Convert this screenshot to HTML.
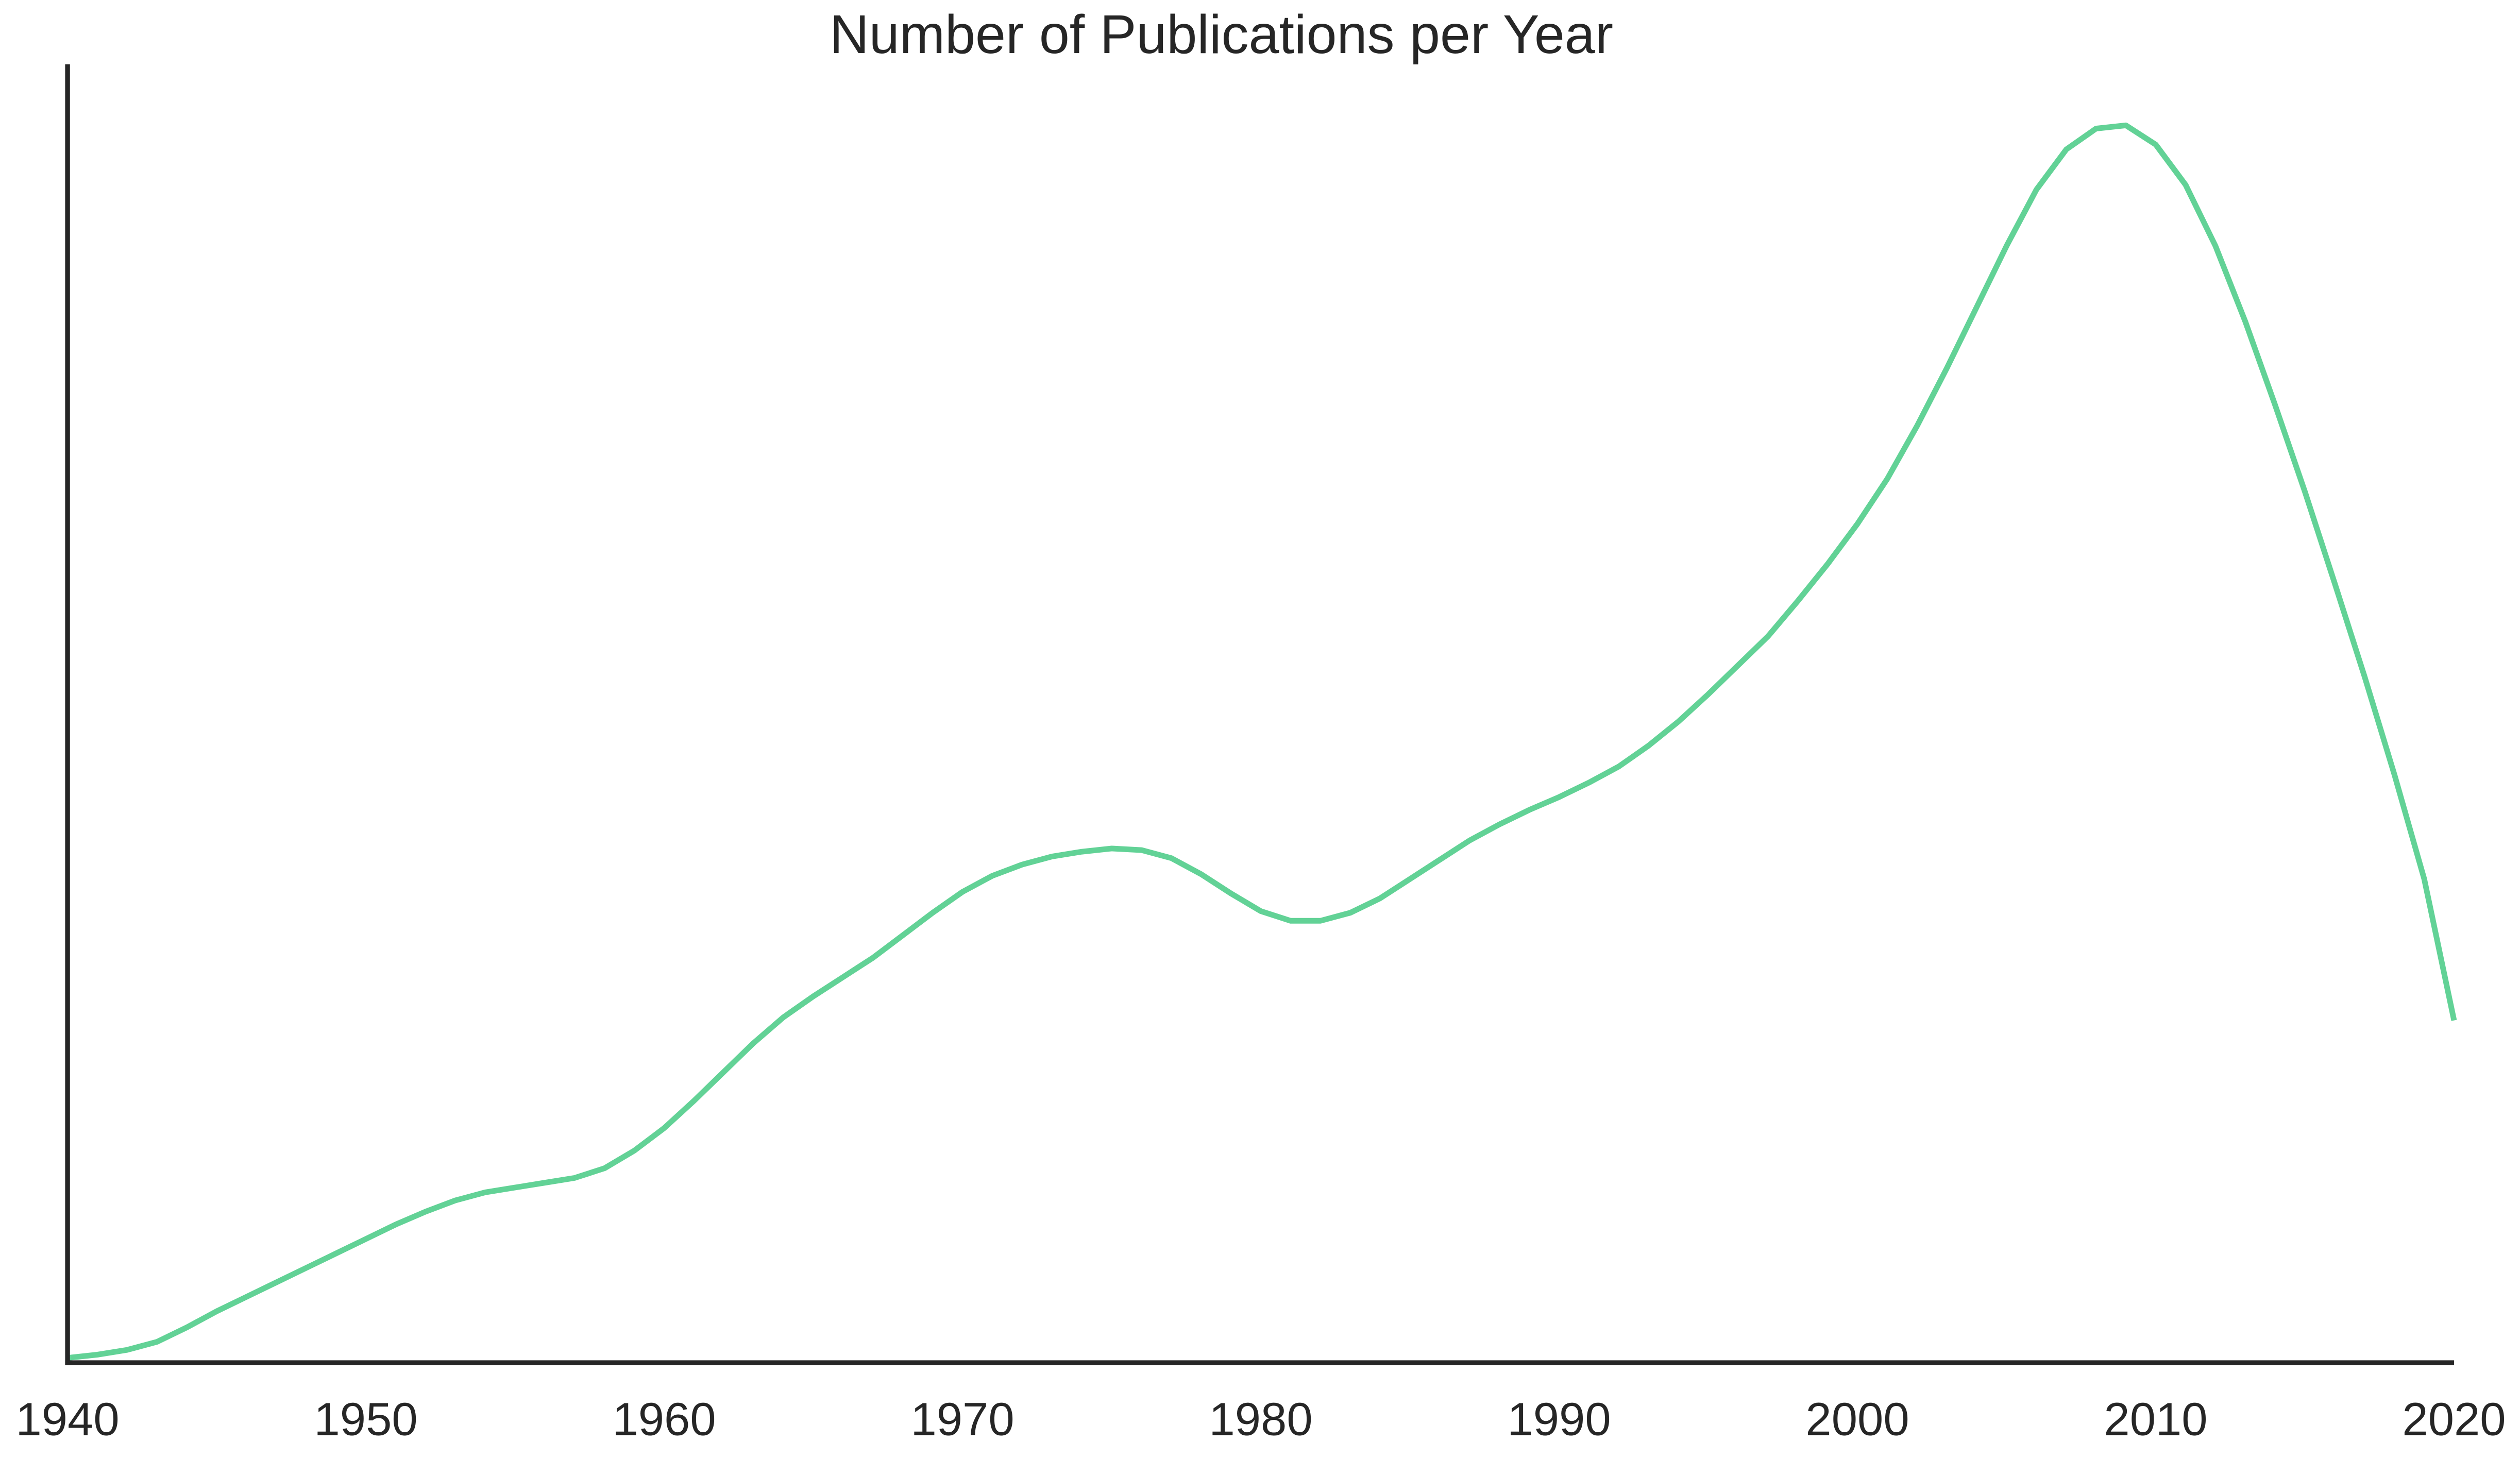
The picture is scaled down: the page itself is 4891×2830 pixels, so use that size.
<!DOCTYPE html>
<html><head><meta charset="utf-8"><style>
html,body{margin:0;padding:0;background:#fff;}
svg{display:block;}
text{font-family:"Liberation Sans",Arial,sans-serif;fill:#262626;}
</style></head><body>
<svg id="chart" width="4891" height="2830" viewBox="0 0 1568 907.3" xmlns="http://www.w3.org/2000/svg">
<text x="760" y="33" font-size="34" text-anchor="middle">Number of Publications per Year</text>
<g id="plot"></g>
</svg>
<script>
const years = [1940,1941,1942,1943,1944,1945,1946,1947,1948,1949,1950,1951,1952,1953,1954,1955,1956,1957,1958,1959,1960,1961,1962,1963,1964,1965,1966,1967,1968,1969,1970,1971,1972,1973,1974,1975,1976,1977,1978,1979,1980,1981,1982,1983,1984,1985,1986,1987,1988,1989,1990,1991,1992,1993,1994,1995,1996,1997,1998,1999,2000,2001,2002,2003,2004,2005,2006,2007,2008,2009,2010,2011,2012,2013,2014,2015,2016,2017,2018,2019,2020];
const counts = [3,5,8,13,22,32,41,50,59,68,77,86,94,101,106,109,112,115,121,132,146,163,181,199,215,228,240,252,266,280,293,303,310,315,318,320,319,314,304,292,281,275,275,280,289,301,313,325,335,344,352,361,371,384,399,416,434,452,474,497,522,550,583,619,657,695,730,755,768,770,758,733,695,648,596,542,485,427,366,301,213];
const xTicks = [1940,1950,1960,1970,1980,1990,2000,2010,2020];
const X0=42, X1=1527, YB=848, YT=40, YMAX=808;
const xs = v => X0 + (v-1940)/(2020-1940)*(X1-X0);
const ys = v => YB - v/YMAX*(YB-YT);
const NS="http://www.w3.org/2000/svg";
const g=document.getElementById('plot');
let d='';
years.forEach((yr,i)=>{d+=(i?'L':'M')+xs(yr).toFixed(2)+','+ys(counts[i]).toFixed(2);});
const line=document.createElementNS(NS,'path');
line.setAttribute('d',d);line.setAttribute('fill','none');line.setAttribute('stroke','#62d296');line.setAttribute('stroke-width','3.5');line.setAttribute('stroke-linejoin','round');


g.appendChild(line);
const ya=document.createElementNS(NS,'line');
ya.setAttribute('x1',X0);ya.setAttribute('x2',X0);ya.setAttribute('y1',YT);ya.setAttribute('y2',YB+1.5);ya.setAttribute('stroke','#262626');ya.setAttribute('stroke-width','3');


g.appendChild(ya);
const xa=document.createElementNS(NS,'line');
xa.setAttribute('x1',X0-1.5);xa.setAttribute('x2',X1);xa.setAttribute('y1',YB);xa.setAttribute('y2',YB);xa.setAttribute('stroke','#262626');xa.setAttribute('stroke-width','3');


g.appendChild(xa);
xTicks.forEach(t=>{
  const tx=document.createElementNS(NS,'text');
  tx.setAttribute('x',xs(t));tx.setAttribute('y',893);tx.setAttribute('font-size','29');tx.setAttribute('text-anchor','middle');
  tx.textContent=t;
  
  
  g.appendChild(tx);
});
</script>
</body></html>
